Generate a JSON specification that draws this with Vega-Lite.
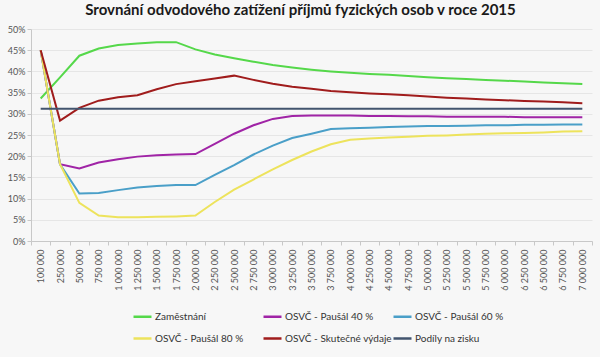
{
 "$schema": "https://vega.github.io/schema/vega-lite/v6.json",
 "width": 561,
 "height": 212,
 "autosize": {"type": "none"},
 "padding": {"left": 31, "top": 29, "right": 8, "bottom": 116},
 "background": "#f7f7f7",
 "title": {"text": "Srovnání odvodového zatížení příjmů fyzických osob v roce 2015", "font": "Lato", "fontSize": 15, "fontWeight": "bold", "color": "#1a1a1a", "anchor": "middle", "dx": -11, "offset": 7},
 "data": {"values": [
  {"x": "100 000", "Zaměstnání": 33.6, "OSVČ - Paušál 40 %": 45.0, "OSVČ - Paušál 60 %": 45.0, "OSVČ - Paušál 80 %": 45.0, "OSVČ - Skutečné výdaje": 45.0, "Podíly na zisku": 31.2},
  {"x": "250 000", "Zaměstnání": 38.6, "OSVČ - Paušál 40 %": 18.1, "OSVČ - Paušál 60 %": 18.1, "OSVČ - Paušál 80 %": 18.1, "OSVČ - Skutečné výdaje": 28.4, "Podíly na zisku": 31.2},
  {"x": "500 000", "Zaměstnání": 43.7, "OSVČ - Paušál 40 %": 17.1, "OSVČ - Paušál 60 %": 11.2, "OSVČ - Paušál 80 %": 9.0, "OSVČ - Skutečné výdaje": 31.4, "Podíly na zisku": 31.2},
  {"x": "750 000", "Zaměstnání": 45.4, "OSVČ - Paušál 40 %": 18.5, "OSVČ - Paušál 60 %": 11.3, "OSVČ - Paušál 80 %": 6.0, "OSVČ - Skutečné výdaje": 33.1, "Podíly na zisku": 31.2},
  {"x": "1 000 000", "Zaměstnání": 46.2, "OSVČ - Paušál 40 %": 19.3, "OSVČ - Paušál 60 %": 12.0, "OSVČ - Paušál 80 %": 5.6, "OSVČ - Skutečné výdaje": 33.9, "Podíly na zisku": 31.2},
  {"x": "1 250 000", "Zaměstnání": 46.6, "OSVČ - Paušál 40 %": 19.9, "OSVČ - Paušál 60 %": 12.6, "OSVČ - Paušál 80 %": 5.6, "OSVČ - Skutečné výdaje": 34.4, "Podíly na zisku": 31.2},
  {"x": "1 500 000", "Zaměstnání": 46.9, "OSVČ - Paušál 40 %": 20.2, "OSVČ - Paušál 60 %": 13.0, "OSVČ - Paušál 80 %": 5.7, "OSVČ - Skutečné výdaje": 35.8, "Podíly na zisku": 31.2},
  {"x": "1 750 000", "Zaměstnání": 46.9, "OSVČ - Paušál 40 %": 20.4, "OSVČ - Paušál 60 %": 13.2, "OSVČ - Paušál 80 %": 5.8, "OSVČ - Skutečné výdaje": 37.0, "Podíly na zisku": 31.2},
  {"x": "2 000 000", "Zaměstnání": 45.2, "OSVČ - Paušál 40 %": 20.5, "OSVČ - Paušál 60 %": 13.2, "OSVČ - Paušál 80 %": 6.0, "OSVČ - Skutečné výdaje": 37.7, "Podíly na zisku": 31.2},
  {"x": "2 250 000", "Zaměstnání": 44.0, "OSVČ - Paušál 40 %": 22.9, "OSVČ - Paušál 60 %": 15.6, "OSVČ - Paušál 80 %": 9.2, "OSVČ - Skutečné výdaje": 38.3, "Podíly na zisku": 31.2},
  {"x": "2 500 000", "Zaměstnání": 43.1, "OSVČ - Paušál 40 %": 25.3, "OSVČ - Paušál 60 %": 17.9, "OSVČ - Paušál 80 %": 12.1, "OSVČ - Skutečné výdaje": 39.0, "Podíly na zisku": 31.2},
  {"x": "2 750 000", "Zaměstnání": 42.3, "OSVČ - Paušál 40 %": 27.3, "OSVČ - Paušál 60 %": 20.4, "OSVČ - Paušál 80 %": 14.5, "OSVČ - Skutečné výdaje": 38.0, "Podíly na zisku": 31.2},
  {"x": "3 000 000", "Zaměstnání": 41.5, "OSVČ - Paušál 40 %": 28.8, "OSVČ - Paušál 60 %": 22.5, "OSVČ - Paušál 80 %": 16.9, "OSVČ - Skutečné výdaje": 37.1, "Podíly na zisku": 31.2},
  {"x": "3 250 000", "Zaměstnání": 40.9, "OSVČ - Paušál 40 %": 29.5, "OSVČ - Paušál 60 %": 24.3, "OSVČ - Paušál 80 %": 19.1, "OSVČ - Skutečné výdaje": 36.4, "Podíly na zisku": 31.2},
  {"x": "3 500 000", "Zaměstnání": 40.4, "OSVČ - Paušál 40 %": 29.6, "OSVČ - Paušál 60 %": 25.3, "OSVČ - Paušál 80 %": 21.1, "OSVČ - Skutečné výdaje": 35.9, "Podíly na zisku": 31.2},
  {"x": "3 750 000", "Zaměstnání": 40.0, "OSVČ - Paušál 40 %": 29.6, "OSVČ - Paušál 60 %": 26.4, "OSVČ - Paušál 80 %": 22.8, "OSVČ - Skutečné výdaje": 35.4, "Podíly na zisku": 31.2},
  {"x": "4 000 000", "Zaměstnání": 39.7, "OSVČ - Paušál 40 %": 29.6, "OSVČ - Paušál 60 %": 26.6, "OSVČ - Paušál 80 %": 23.9, "OSVČ - Skutečné výdaje": 35.1, "Podíly na zisku": 31.2},
  {"x": "4 250 000", "Zaměstnání": 39.4, "OSVČ - Paušál 40 %": 29.5, "OSVČ - Paušál 60 %": 26.7, "OSVČ - Paušál 80 %": 24.2, "OSVČ - Skutečné výdaje": 34.8, "Podíly na zisku": 31.2},
  {"x": "4 500 000", "Zaměstnání": 39.2, "OSVČ - Paušál 40 %": 29.5, "OSVČ - Paušál 60 %": 26.9, "OSVČ - Paušál 80 %": 24.4, "OSVČ - Skutečné výdaje": 34.6, "Podíly na zisku": 31.2},
  {"x": "4 750 000", "Zaměstnání": 38.9, "OSVČ - Paušál 40 %": 29.4, "OSVČ - Paušál 60 %": 27.0, "OSVČ - Paušál 80 %": 24.6, "OSVČ - Skutečné výdaje": 34.4, "Podíly na zisku": 31.2},
  {"x": "5 000 000", "Zaměstnání": 38.6, "OSVČ - Paušál 40 %": 29.4, "OSVČ - Paušál 60 %": 27.1, "OSVČ - Paušál 80 %": 24.8, "OSVČ - Skutečné výdaje": 34.1, "Podíly na zisku": 31.2},
  {"x": "5 250 000", "Zaměstnání": 38.4, "OSVČ - Paušál 40 %": 29.3, "OSVČ - Paušál 60 %": 27.1, "OSVČ - Paušál 80 %": 24.9, "OSVČ - Skutečné výdaje": 33.8, "Podíly na zisku": 31.2},
  {"x": "5 500 000", "Zaměstnání": 38.2, "OSVČ - Paušál 40 %": 29.3, "OSVČ - Paušál 60 %": 27.2, "OSVČ - Paušál 80 %": 25.1, "OSVČ - Skutečné výdaje": 33.6, "Podíly na zisku": 31.2},
  {"x": "5 750 000", "Zaměstnání": 38.0, "OSVČ - Paušál 40 %": 29.3, "OSVČ - Paušál 60 %": 27.3, "OSVČ - Paušál 80 %": 25.3, "OSVČ - Skutečné výdaje": 33.4, "Podíly na zisku": 31.2},
  {"x": "6 000 000", "Zaměstnání": 37.8, "OSVČ - Paušál 40 %": 29.3, "OSVČ - Paušál 60 %": 27.3, "OSVČ - Paušál 80 %": 25.4, "OSVČ - Skutečné výdaje": 33.2, "Podíly na zisku": 31.2},
  {"x": "6 250 000", "Zaměstnání": 37.6, "OSVČ - Paušál 40 %": 29.2, "OSVČ - Paušál 60 %": 27.4, "OSVČ - Paušál 80 %": 25.5, "OSVČ - Skutečné výdaje": 33.0, "Podíly na zisku": 31.2},
  {"x": "6 500 000", "Zaměstnání": 37.4, "OSVČ - Paušál 40 %": 29.2, "OSVČ - Paušál 60 %": 27.4, "OSVČ - Paušál 80 %": 25.6, "OSVČ - Skutečné výdaje": 32.9, "Podíly na zisku": 31.2},
  {"x": "6 750 000", "Zaměstnání": 37.2, "OSVČ - Paušál 40 %": 29.2, "OSVČ - Paušál 60 %": 27.5, "OSVČ - Paušál 80 %": 25.8, "OSVČ - Skutečné výdaje": 32.7, "Podíly na zisku": 31.2},
  {"x": "7 000 000", "Zaměstnání": 37.0, "OSVČ - Paušál 40 %": 29.2, "OSVČ - Paušál 60 %": 27.5, "OSVČ - Paušál 80 %": 25.9, "OSVČ - Skutečné výdaje": 32.5, "Podíly na zisku": 31.2}
 ]},
 "transform": [{"fold": ["Zaměstnání", "OSVČ - Paušál 40 %", "OSVČ - Paušál 60 %", "OSVČ - Paušál 80 %", "OSVČ - Skutečné výdaje", "Podíly na zisku"], "as": ["s", "v"]}],
 "mark": {"type": "line", "strokeWidth": 2},
 "encoding": {
  "x": {"field": "x", "type": "nominal", "sort": null, "bandPosition": 0.5,
   "scale": {"type": "band", "paddingInner": 0, "paddingOuter": 0},
   "axis": {"title": null, "labelAngle": -90, "labelFontSize": 9, "labelFont": "Lato", "labelColor": "#555555", "tickBand": "extent", "domainColor": "#c8c8c8", "tickColor": "#c8c8c8", "tickSize": 4, "labelPadding": 4, "grid": false}},
  "y": {"field": "v", "type": "quantitative", "scale": {"domain": [0, 50]},
   "axis": {"title": null, "values": [0, 5, 10, 15, 20, 25, 30, 35, 40, 45, 50], "labelExpr": "datum.value + '%'", "labelFontSize": 9, "labelFont": "Lato", "labelColor": "#555555", "domainColor": "#c8c8c8", "tickColor": "#c8c8c8", "tickSize": 4, "labelPadding": 2, "gridColor": "#e6e6e6"}},
  "color": {"field": "s", "type": "nominal",
   "scale": {"domain": ["Zaměstnání", "OSVČ - Paušál 80 %", "OSVČ - Paušál 40 %", "OSVČ - Skutečné výdaje", "OSVČ - Paušál 60 %", "Podíly na zisku"], "range": ["#55d84a", "#ede35c", "#a024a6", "#a01c1c", "#4a9fc8", "#42546e"]},
   "legend": {"orient": "none", "legendX": 101, "legendY": 277, "columns": 3, "title": null, "symbolType": "stroke", "symbolStrokeWidth": 2.5, "symbolSize": 324, "labelFontSize": 10, "labelFont": "Lato", "labelColor": "#333333", "labelOffset": 2, "columnPadding": -12, "rowPadding": 6, "gridAlign": "all"}}
 },
 "config": {"view": {"stroke": null}, "font": "Lato"}
}
